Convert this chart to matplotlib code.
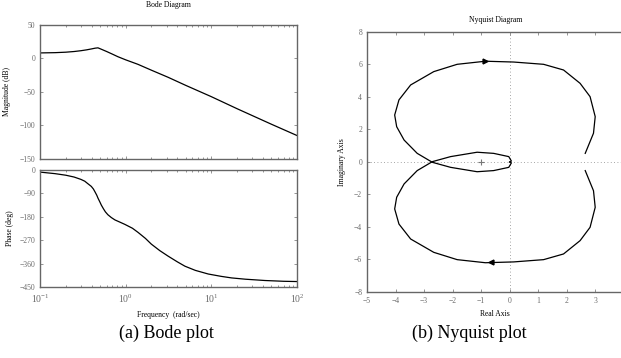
import matplotlib
matplotlib.use("Agg")
import matplotlib.pyplot as plt
import numpy as np

plt.rcParams['font.family'] = ['Liberation Serif', 'DejaVu Serif']
plt.rcParams['mathtext.fontset'] = 'stix'

# Bode magnitude
mag_w = [0.1, 0.15, 0.2, 0.25, 0.3, 0.35, 0.40, 0.44, 0.475, 0.52, 0.6, 0.7, 0.81, 1.0, 1.39,
         2.0, 3.12, 5.0, 10.0, 20.0, 50.0, 100.0]
mag_db = [8.3, 8.7, 9.4, 10.4, 11.6, 12.9, 14.3, 15.4, 15.9, 13.8, 10.4, 6.5, 2.7, -2.0, -8.7,
          -17.5, -28.0, -40.0, -57.0, -75.0, -98.0, -115.0]

# Bode phase
ph_w = [0.1, 0.15, 0.2, 0.25, 0.3, 0.333, 0.36, 0.397, 0.42, 0.44, 0.46, 0.475, 0.5, 0.52,
        0.55, 0.58, 0.62, 0.681, 0.75, 0.85, 0.977, 1.2, 1.396, 1.7, 1.992, 2.5, 3.12, 4.0,
        4.92, 6.5, 9.2, 13.0, 17.2, 25.0, 42.3, 70.0, 100.0]
ph_deg = [-8, -14, -20, -27, -36, -43, -52, -63, -73, -85, -97, -108, -123, -135,
          -149, -161, -172, -183, -192, -200, -209, -224, -240, -263, -285, -310, -331, -353,
          -370, -386, -400, -409, -415, -420, -425, -428, -429]

# Nyquist, positive-frequency branch (negative branch is its mirror)
nyq_re = [2.65, 2.94, 3.0, 2.82, 2.47, 1.89, 1.19, 0.14, -0.85, -1.84, -2.66, -3.47,
          -3.88, -4.03, -3.96, -3.70, -3.24, -2.71, -2.07, -1.14, -0.56, -0.03, 0.06, 0.02, 0.0]
nyq_im = [-0.53, -1.77, -2.79, -4.02, -4.84, -5.66, -6.01, -6.15, -6.20, -6.01, -5.56, -4.74,
          -3.82, -2.89, -2.17, -1.35, -0.53, 0.02, 0.33, 0.60, 0.53, 0.33, 0.06, 0.01, 0.0]

captions = ["(a) Bode plot", "(b) Nyquist plot"]

spine_c = '#666666'
tick_c = '#6a6a6a'
fs = 5.5

fig = plt.figure(figsize=(6.21, 3.58), dpi=100)


def style(ax):
    for s in ax.spines.values():
        s.set_color(spine_c)
        s.set_linewidth(1.0)
    ax.tick_params(which='both', direction='in', top=True, right=True,
                   colors=tick_c, labelsize=fs, length=2.5, width=0.5)
    ax.tick_params(which='minor', length=1.5)


ax1 = fig.add_axes([0.0644, 0.5559, 0.4139, 0.3743])
ax1.semilogx(mag_w, mag_db, color='black', lw=0.9)
ax1.set_xlim(0.1, 100)
ax1.set_ylim(-150, 50)
ax1.set_yticks([50, 0, -50, -100, -150])
ax1.tick_params(labelbottom=False)
ax1.set_ylabel('Magnitude (dB)', fontsize=fs, labelpad=6)
ax1.set_title('Bode Diagram', fontsize=fs, pad=13)
style(ax1)

ax2 = fig.add_axes([0.0644, 0.1983, 0.4139, 0.3268])
ax2.semilogx(ph_w, ph_deg, color='black', lw=0.9)
ax2.set_xlim(0.1, 100)
ax2.set_ylim(-450, 0)
ax2.set_yticks([0, -90, -180, -270, -360, -450])
ax2.set_ylabel('Phase (deg)', fontsize=fs, labelpad=4)
ax2.set_xlabel('Frequency  (rad/sec)', fontsize=fs, labelpad=4)
style(ax2)
ax2.tick_params(axis='x', which='major', labelsize=7, pad=4)

ax3 = fig.add_axes([0.591, 0.1844, 0.4134, 0.7263])
ax3.axhline(0, color='#888888', lw=0.6, ls=(0, (1, 3)))
ax3.axvline(0, color='#888888', lw=0.6, ls=(0, (1, 3)))
re = np.array(nyq_re)
im = np.array(nyq_im)
ax3.plot(re, im, color='black', lw=0.9)
ax3.plot(re, -im, color='black', lw=0.9)
ax3.plot([-0.67], [-6.13], marker='<', color='black', ms=3.5)
ax3.plot([-0.85], [6.20], marker='>', color='black', ms=3.5)
ax3.plot([-1], [0], marker='+', color='#777777', ms=5, mew=0.8)
ax3.set_xlim(-5, 4)
ax3.set_ylim(-8, 8)
ax3.set_xticks(range(-5, 5))
ax3.set_yticks(range(-8, 9, 2))
ax3.set_xlabel('Real Axis', fontsize=fs, labelpad=4)
ax3.set_ylabel('Imaginary Axis', fontsize=fs, labelpad=6)
ax3.set_title('Nyquist Diagram', fontsize=fs, pad=7)
style(ax3)

fig.text(166 / 621, 1 - 333 / 358, captions[0], ha='center', va='center', fontsize=13)
fig.text(469 / 621, 1 - 333 / 358, captions[1], ha='center', va='center', fontsize=13)

fig.savefig('out.png', dpi=100)
